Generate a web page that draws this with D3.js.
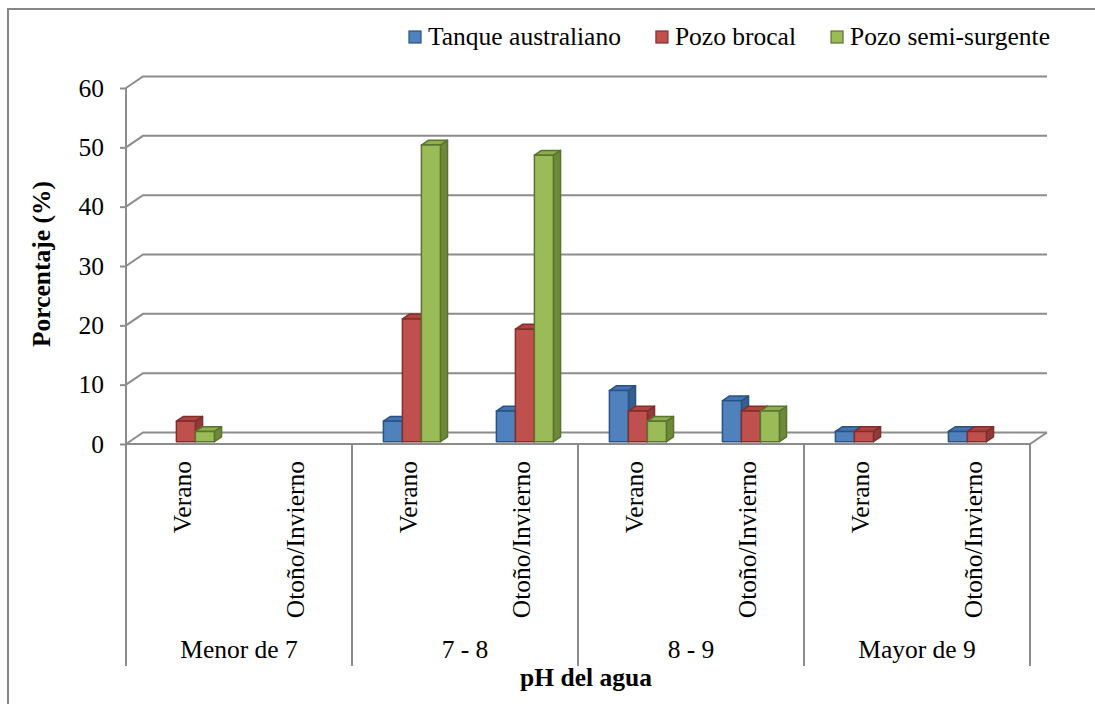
<!DOCTYPE html>
<html>
<head>
<meta charset="utf-8">
<script src="https://cdn.jsdelivr.net/npm/d3@7"></script>
<style>
  body { margin: 0; background: #fff; }
</style>
</head>
<body>
<div id="plot"></div>
<script>
var groups = ["Menor de 7", "7 - 8", "8 - 9", "Mayor de 9"];
var seasons = ["Verano", "Otoño/Invierno"];
var seriesNames = ["Tanque australiano", "Pozo brocal", "Pozo semi-surgente"];

// one value per subcategory: group x season
var tanque = [0, 0, 3.45, 5.17, 8.62, 6.90, 1.72, 1.72];
var brocal = [3.45, 0, 20.69, 18.97, 5.17, 5.17, 1.72, 1.72];
var semiSurgente = [1.72, 0, 50.00, 48.28, 3.45, 5.17, 0, 0];
var yTicks = [0, 10, 20, 30, 40, 50, 60];

var fills = ["#4f81bd", "#c0504d", "#9bbb59"];
var tops = ["#4375b2", "#b3433f", "#8dae4a"];
var sides = ["#365f91", "#923a37", "#6d8a37"];
var strokes = ["#2c5281", "#7f2f2c", "#5a7430"];

var allSeries = [tanque, brocal, semiSurgente];
var FONT = "'Liberation Serif', 'Times New Roman', Times, serif";
var FS = "25.5px";

var width = 1095, height = 704;
var DX = 17, DY = 11.5;      // depth of the floor
var f1 = 0.2, f2 = 0.62;     // bar front / back depth

var svg = d3.select("#plot").append("svg")
    .attr("width", width)
    .attr("height", height)
    .style("font-family", FONT);

// frame
svg.append("rect")
    .attr("x", 8).attr("y", 9)
    .attr("width", 1200).attr("height", 800)
    .style("fill", "none")
    .style("stroke", "#868686")
    .style("stroke-width", 2);

var subs = [];
groups.forEach(function(g) {
    seasons.forEach(function(s) { subs.push(g + "|" + s); });
});

var x = d3.scaleBand().domain(subs).range([126, 1030]);
var xg = d3.scaleBand().domain(groups).range([126, 1030]);
var y = d3.scaleLinear().domain([0, 60]).range([444, 88]);
var inner = d3.scaleBand().domain([0, 1, 2]).range([-28.5, 28.5]);

var grid = svg.append("g").style("stroke", "#8c8c8c").style("stroke-width", 2).style("fill", "none");

// back wall gridlines + side wall diagonals
yTicks.forEach(function(t) {
    grid.append("path")
        .attr("d", "M126," + y(t) + "L" + (126 + DX) + "," + (y(t) - DY) + "L" + (1030 + DX) + "," + (y(t) - DY));
});
// floor front edge and right edge
grid.append("path").attr("d", "M126," + y(0) + "L1030," + y(0) + "L" + (1030 + DX) + "," + (y(0) - DY));

// category dividers
var bounds = groups.map(function(g) { return xg(g); }).concat([1030]);
grid.selectAll("line.div")
    .data(bounds).enter()
    .append("line")
    .attr("x1", function(d) { return d; })
    .attr("x2", function(d) { return d; })
    .attr("y1", y(0))
    .attr("y2", 666);

// y axis
var yAxis = svg.append("g")
    .attr("transform", "translate(126,0)")
    .call(d3.axisLeft(y).tickValues(yTicks).tickSize(6).tickPadding(16));
yAxis.select(".domain").remove();
yAxis.selectAll("line").style("stroke", "#8c8c8c").style("stroke-width", 2);
yAxis.selectAll("text").style("font-size", FS).style("font-family", FONT).style("fill", "#000");
grid.append("line").attr("x1", 126).attr("x2", 126).attr("y1", y(60)).attr("y2", y(0));

// bars
var bdx = (f2 - f1) * DX, bdy = (f2 - f1) * DY;
var bw = inner.bandwidth();
var bars = svg.append("g");
subs.forEach(function(sub, i) {
    var cx = x(sub) + x.bandwidth() / 2 + f1 * DX;
    allSeries.forEach(function(vals, s) {
        var v = vals[i];
        if (!v) return;
        var L = cx + inner(s);
        var yt = y(v) - f1 * DY;
        var yb = y(0) - f1 * DY;
        var g = bars.append("g")
            .style("stroke", strokes[s])
            .style("stroke-width", 1.5)
            .style("stroke-linejoin", "round");
        g.append("path")
            .attr("d", "M" + (L + bw) + "," + yt + "L" + (L + bw + bdx) + "," + (yt - bdy) +
                "L" + (L + bw + bdx) + "," + (yb - bdy) + "L" + (L + bw) + "," + yb + "Z")
            .style("fill", sides[s]);
        g.append("path")
            .attr("d", "M" + L + "," + yt + "L" + (L + bw) + "," + yt +
                "L" + (L + bw + bdx) + "," + (yt - bdy) + "L" + (L + bdx) + "," + (yt - bdy) + "Z")
            .style("fill", tops[s]);
        g.append("rect")
            .attr("x", L).attr("y", yt)
            .attr("width", bw).attr("height", yb - yt)
            .style("fill", fills[s]);
    });
});

// season labels
svg.selectAll("text.season")
    .data(subs).enter()
    .append("text")
    .attr("transform", function(d) { return "translate(" + (x(d) + x.bandwidth() / 2) + ",461) rotate(-90)"; })
    .attr("dy", "0.35em")
    .style("text-anchor", "end")
    .style("font-family", FONT)
    .style("font-size", FS)
    .text(function(d) { return d.split("|")[1]; });

// group labels
svg.selectAll("text.group")
    .data(groups).enter()
    .append("text")
    .attr("x", function(d) { return xg(d) + xg.bandwidth() / 2; })
    .attr("y", 658)
    .style("text-anchor", "middle")
    .style("font-family", FONT)
    .style("font-size", FS)
    .text(function(d) { return d; });

// axis titles
svg.append("text")
    .attr("x", 586).attr("y", 686)
    .style("text-anchor", "middle")
    .style("font-family", FONT)
    .style("font-size", FS)
    .style("font-weight", "bold")
    .text("pH del agua");

svg.append("text")
    .attr("transform", "translate(41,264) rotate(-90)")
    .attr("dy", "0.35em")
    .style("text-anchor", "middle")
    .style("font-family", FONT)
    .style("font-size", FS)
    .style("font-weight", "bold")
    .text("Porcentaje (%)");

// legend
var lx = 409;
var legend = svg.append("g");
seriesNames.forEach(function(name, s) {
    legend.append("rect")
        .attr("x", lx).attr("y", 31)
        .attr("width", 12).attr("height", 12)
        .style("fill", fills[s])
        .style("stroke", strokes[s])
        .style("stroke-width", 1.2);
    var t = legend.append("text")
        .attr("x", lx + 19).attr("y", 45)
        .style("font-family", FONT)
        .style("font-size", FS)
        .text(name);
    lx = lx + 19 + t.node().getComputedTextLength() + 35;
});
</script>
</body>
</html>
